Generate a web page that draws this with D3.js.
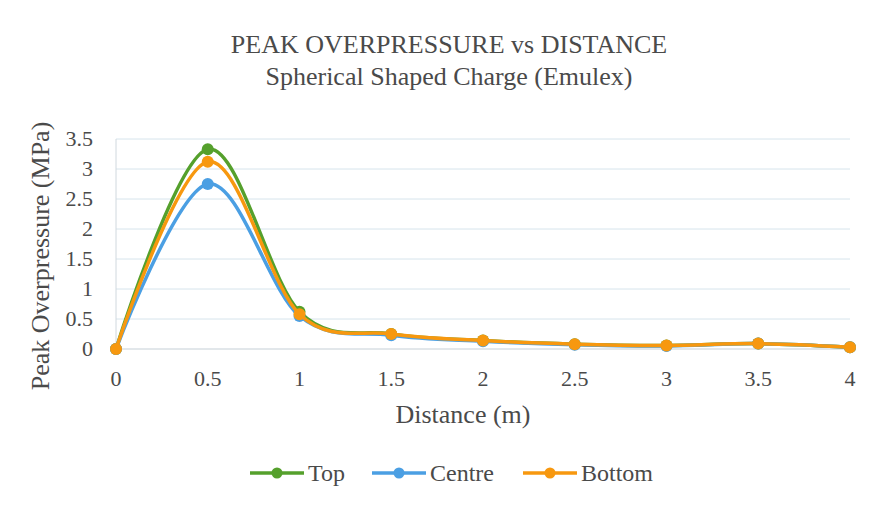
<!DOCTYPE html>
<html>
<head>
<meta charset="utf-8">
<script src="https://cdn.jsdelivr.net/npm/d3@7"></script>
<style>
  body { margin: 0; background: #fff; }
  svg text { font-family: "Liberation Serif", "DejaVu Serif", serif; fill: #4a4a4a; }
</style>
</head>
<body>
<div id="chart"></div>
<script>
'use strict';

var distances = [0, 0.5, 1, 1.5, 2, 2.5, 3, 3.5, 4];
var topVals = [0, 3.33, 0.62, 0.25, 0.14, 0.08, 0.06, 0.09, 0.03];
var centreVals = [0, 2.75, 0.55, 0.23, 0.13, 0.07, 0.05, 0.09, 0.03];
var bottomVals = [0, 3.12, 0.58, 0.25, 0.14, 0.08, 0.06, 0.09, 0.03];
var seriesNames = ['Top', 'Centre', 'Bottom'];
var xTicks = [0, 0.5, 1, 1.5, 2, 2.5, 3, 3.5, 4];
var yTicks = [0, 0.5, 1, 1.5, 2, 2.5, 3, 3.5];

var colors = ['#55a02c', '#4b9fe3', '#f7980f'];
var series = [topVals, centreVals, bottomVals];

var width = 875, height = 508;
var svg = d3.select('#chart').append('svg')
    .attr('width', width)
    .attr('height', height);

var x = d3.scaleLinear().domain([0, 4]).range([116, 850]);
var y = d3.scaleLinear().domain([0, 3.5]).range([349, 139]);

// gridlines
svg.append('g').selectAll('line')
    .data(yTicks.slice(1))
    .enter().append('line')
    .attr('x1', x(0)).attr('x2', x(4))
    .attr('y1', function(d) { return y(d); })
    .attr('y2', function(d) { return y(d); })
    .style('stroke', '#d6e4ec')
    .style('stroke-width', 1);

svg.append('line')
    .attr('x1', x(0)).attr('x2', x(4))
    .attr('y1', y(0)).attr('y2', y(0))
    .style('stroke', '#c5cfd6');
svg.append('line')
    .attr('x1', x(0)).attr('x2', x(0))
    .attr('y1', y(0)).attr('y2', y(3.5))
    .style('stroke', '#d0d8de');

// tick labels
svg.append('g').selectAll('text')
    .data(yTicks)
    .enter().append('text')
    .attr('x', 93)
    .attr('y', function(d) { return y(d) + 7; })
    .attr('text-anchor', 'end')
    .style('font-size', '22px')
    .text(function(d) { return d; });

svg.append('g').selectAll('text')
    .data(xTicks)
    .enter().append('text')
    .attr('x', function(d) { return x(d); })
    .attr('y', 386)
    .attr('text-anchor', 'middle')
    .style('font-size', '22px')
    .text(function(d) { return d; });

// titles
svg.append('text')
    .attr('x', 449).attr('y', 53)
    .attr('text-anchor', 'middle')
    .style('font-size', '26px')
    .text('PEAK OVERPRESSURE vs DISTANCE');
svg.append('text')
    .attr('x', 449).attr('y', 85)
    .attr('text-anchor', 'middle')
    .style('font-size', '26px')
    .text('Spherical Shaped Charge (Emulex)');

svg.append('text')
    .attr('x', 463).attr('y', 423)
    .attr('text-anchor', 'middle')
    .style('font-size', '26px')
    .text('Distance (m)');

svg.append('text')
    .attr('transform', 'translate(49,256) rotate(-90)')
    .attr('text-anchor', 'middle')
    .style('font-size', '26px')
    .text('Peak Overpressure (MPa)');

// lines
var line = d3.line()
    .x(function(d, i) { return x(distances[i]); })
    .y(function(d) { return y(d); })
    .curve(d3.curveCatmullRom.alpha(0));

series.forEach(function(vals, k) {
  var g = svg.append('g');
  g.append('path')
      .attr('d', line(vals))
      .style('fill', 'none')
      .style('stroke', colors[k])
      .style('stroke-width', 3.5);
  g.selectAll('circle')
      .data(vals)
      .enter().append('circle')
      .attr('cx', function(d, i) { return x(distances[i]); })
      .attr('cy', function(d) { return y(d); })
      .attr('r', 6)
      .style('fill', colors[k]);
});

// legend
var legendX = [250, 372, 523];
var legend = svg.append('g').selectAll('g')
    .data(seriesNames)
    .enter().append('g')
    .attr('transform', function(d, i) { return 'translate(' + legendX[i] + ',473)'; });

legend.append('line')
    .attr('x1', 0).attr('x2', 54)
    .style('stroke', function(d, i) { return colors[i]; })
    .style('stroke-width', 3.5);
legend.append('circle')
    .attr('cx', 27).attr('r', 5.5)
    .style('fill', function(d, i) { return colors[i]; });
legend.append('text')
    .attr('x', 58).attr('y', 8)
    .style('font-size', '24px')
    .text(function(d) { return d; });
</script>
</body>
</html>
